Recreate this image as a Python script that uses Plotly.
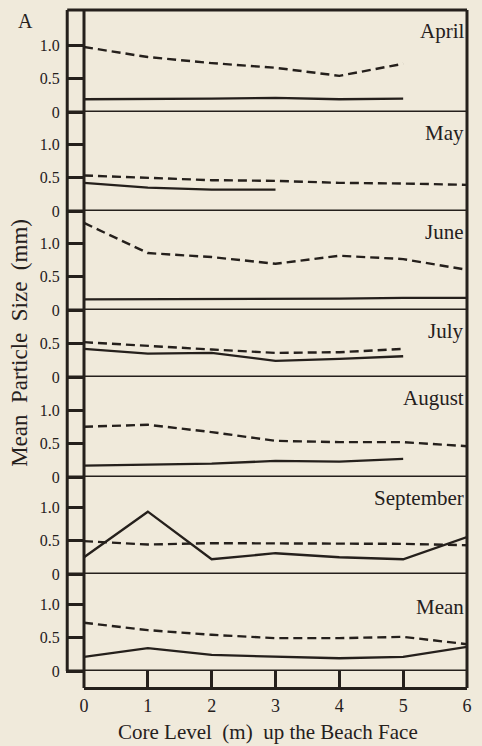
import plotly.graph_objects as go

# Core levels (m) up the beach face
core_levels = [0, 1, 2, 3, 4, 5, 6]

panel_names = ["April", "May", "June", "July", "August", "September", "Mean"]

# Mean particle size (mm): dashed series per month
april_dashed = [0.97, 0.82, 0.73, 0.66, 0.54, 0.72]
may_dashed = [0.53, 0.50, 0.46, 0.45, 0.42, 0.41, 0.39]
june_dashed = [1.30, 0.85, 0.79, 0.69, 0.81, 0.76, 0.60]
july_dashed = [0.52, 0.46, 0.41, 0.36, 0.37, 0.42]
august_dashed = [0.75, 0.78, 0.67, 0.54, 0.52, 0.52, 0.46]
september_dashed = [0.49, 0.44, 0.46, 0.46, 0.45, 0.45, 0.43]
mean_dashed = [0.72, 0.61, 0.54, 0.49, 0.49, 0.51, 0.40]

# Mean particle size (mm): solid series per month
april_solid = [0.19, 0.19, 0.20, 0.21, 0.19, 0.20]
may_solid = [0.42, 0.35, 0.32, 0.32]
june_solid = [0.16, 0.16, 0.16, 0.17, 0.17, 0.18, 0.18]
july_solid = [0.42, 0.35, 0.36, 0.24, 0.27, 0.31]
august_solid = [0.17, 0.18, 0.20, 0.24, 0.23, 0.27]
september_solid = [0.25, 0.93, 0.22, 0.31, 0.25, 0.22, 0.55]
mean_solid = [0.21, 0.34, 0.24, 0.21, 0.19, 0.21, 0.36]

dashed_series = [april_dashed, may_dashed, june_dashed, july_dashed,
                 august_dashed, september_dashed, mean_dashed]
solid_series = [april_solid, may_solid, june_solid, july_solid,
                august_solid, september_solid, mean_solid]

tick_values = [[0, 0.5, 1.0]] * 3 + [[0, 0.5]] + [[0, 0.5, 1.0]] * 3
tick_labels = [["0", "0.5", "1.0"]] * 3 + [["0", "0.5"]] + [["0", "0.5", "1.0"]] * 3

# ---- layout geometry (pixels) ----
W, H = 482, 746
ML, MR, MT, MB = 84, 10, 10, 58
PW, PH = W - ML - MR, H - MT - MB
PX_PER_UNIT = 67.0
# top edge and zero line of each panel
panel_top = [10, 112, 211, 310, 377, 477, 574]
panel_zero = [112, 211, 310, 377, 477, 574, 671]
OUTER_X = 67

INK = "#25201c"
PAPER = "#f0eadb"
SERIF = "Liberation Serif, Times New Roman, serif"


def px_x(p):
    return (p - ML) / PW


def px_y(p):
    return (H - MB - p) / PH


fig = go.Figure()
layout_axes = {}
shapes = []
annotations = []

for i, name in enumerate(panel_names):
    ax = "y" if i == 0 else f"y{i + 1}"
    key = "yaxis" if i == 0 else f"yaxis{i + 1}"
    top_val = (panel_zero[i] - panel_top[i]) / PX_PER_UNIT
    layout_axes[key] = dict(
        domain=[px_y(panel_zero[i]), px_y(panel_top[i])],
        range=[0, top_val],
        anchor="x",
        tickmode="array",
        tickvals=tick_values[i],
        ticktext=tick_labels[i],
        ticks="outside",
        ticklen=17,
        tickwidth=2.5,
        tickcolor=INK,
        showgrid=False,
        zeroline=False,
        showline=False,
        tickfont=dict(family=SERIF, size=16, color=INK),
        ticklabelstandoff=3,
        fixedrange=True,
    )
    xs = core_levels[:len(dashed_series[i])]
    fig.add_trace(go.Scatter(
        x=xs, y=dashed_series[i], mode="lines", yaxis=ax, xaxis="x",
        line=dict(color=INK, width=2.4, dash="9px,5px"),
        showlegend=False, hoverinfo="skip"))
    xs = core_levels[:len(solid_series[i])]
    fig.add_trace(go.Scatter(
        x=xs, y=solid_series[i], mode="lines", yaxis=ax, xaxis="x",
        line=dict(color=INK, width=2.3),
        showlegend=False, hoverinfo="skip"))

    # zero line separating panels
    shapes.append(dict(type="line", xref="paper", yref=ax,
                       x0=px_x(OUTER_X), x1=1, y0=0, y1=0,
                       line=dict(color=INK, width=3)))
    # panel label
    annotations.append(dict(
        text=name, xref="paper", yref=f"{ax} domain",
        x=px_x(471), y=1, xanchor="right", yanchor="middle",
        yshift=-33 if name == "Mean" else -21, showarrow=False,
        font=dict(family=SERIF, size=21, color=INK)))

# frame
shapes += [
    dict(type="line", xref="paper", yref="paper", x0=px_x(OUTER_X), x1=1,
         y0=px_y(10), y1=px_y(10), line=dict(color=INK, width=3)),
    dict(type="line", xref="paper", yref="paper", x0=0, x1=0,
         y0=0, y1=px_y(10), line=dict(color=INK, width=3)),
    dict(type="line", xref="paper", yref="paper", x0=px_x(OUTER_X), x1=px_x(OUTER_X),
         y0=px_y(671), y1=px_y(10), line=dict(color=INK, width=3)),
    dict(type="line", xref="paper", yref="paper", x0=1, x1=1,
         y0=0, y1=px_y(10), line=dict(color=INK, width=3)),
]

annotations += [
    dict(text="A", xref="paper", yref="paper", x=px_x(25), y=px_y(21),
         xanchor="center", yanchor="middle", showarrow=False,
         font=dict(family=SERIF, size=20, color=INK)),
    dict(text="Mean  Particle  Size  (mm)", xref="paper", yref="paper",
         x=px_x(18), y=px_y(343), xanchor="center", yanchor="middle",
         textangle=-90, showarrow=False,
         font=dict(family=SERIF, size=23, color=INK)),
    dict(text="Core Level  (m)  up the Beach Face", xref="paper", yref="paper",
         x=px_x(270), y=px_y(732), xanchor="center", yanchor="middle",
         showarrow=False,
         font=dict(family=SERIF, size=21, color=INK)),
]

fig.update_layout(
    width=W, height=H, autosize=False,
    margin=dict(l=ML, r=MR, t=MT, b=MB, pad=0),
    paper_bgcolor=PAPER, plot_bgcolor=PAPER,
    xaxis=dict(
        range=[0, 6], domain=[0, 1], anchor="free", position=0,
        tickmode="array", tickvals=core_levels,
        ticktext=[str(v) for v in core_levels],
        ticks="inside", ticklen=17, tickwidth=2.5, tickcolor=INK,
        showline=True, linewidth=3, linecolor=INK,
        showgrid=False, zeroline=False,
        tickfont=dict(family=SERIF, size=18, color=INK),
        fixedrange=True,
    ),
    shapes=shapes,
    annotations=annotations,
    **layout_axes,
)

fig.write_html("out.html", config={"displayModeBar": False})
